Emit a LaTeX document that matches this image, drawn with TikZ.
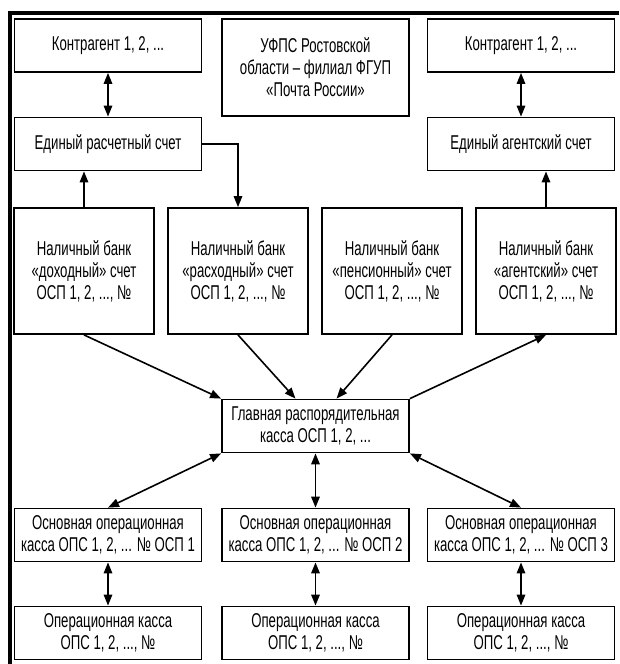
\documentclass[tikz,border=0pt]{standalone}
\usepackage{fontspec}
\setmainfont[FakeStretch=0.66]{Liberation Sans}
\usetikzlibrary{arrows.meta,calc}
\begin{document}
\begin{tikzpicture}[x=1pt,y=-1pt,
  box/.style={draw, line width=1.8pt, fill=white, inner sep=2pt, align=center,
    font=\fontsize{20}{22}\selectfont},
  col/.style={minimum width=187pt, minimum height=53pt},
  nb/.style={minimum width=140pt, minimum height=126pt},
  conn/.style={line width=1.6pt, -{Triangle[length=11pt,width=8.5pt]}},
  dconn/.style={line width=1.6pt, {Triangle[length=11pt,width=8.5pt]}-{Triangle[length=11pt,width=8.5pt]}}]
\useasboundingbox (0,0) rectangle (619,664);
\fill[white] (0,0) rectangle (619,664);
\draw[line width=4.5pt, line join=miter] (10,664) -- (10,13) -- (619,13);

% top row
\node[box,col] (k1) at (108,45.5) {Контрагент 1, 2, ...};
\node[box,col, minimum height=97pt] (uf) at (315.5,67.5) {УФПС Ростовской\\области – филиал ФГУП\\«Почта России»};
\node[box,col] (k2) at (521,45.5) {Контрагент 1, 2, ...};
\node[box,col] (er) at (108,144) {Единый расчетный счет};
\node[box,col] (ea) at (521,144) {Единый агентский счет};

% cash bank accounts
\node[box,nb] (n1) at (84,271) {Наличный банк\\«доходный» счет\\ОСП 1, 2, ..., №};
\node[box,nb] (n2) at (238,271) {Наличный банк\\«расходный» счет\\ОСП 1, 2, ..., №};
\node[box,nb] (n3) at (392,271) {Наличный банк\\«пенсионный» счет\\ОСП 1, 2, ..., №};
\node[box,nb] (n4) at (546,271) {Наличный банк\\«агентский» счет\\ОСП 1, 2, ..., №};

% main cash desk
\node[box,col] (gk) at (315.5,426) {Главная распорядительная\\касса ОСП 1, 2, ...};

% bottom rows
\node[box,col] (o1) at (108,535) {Основная операционная\\касса ОПС 1, 2, ... № ОСП 1};
\node[box,col] (o2) at (315.5,535) {Основная операционная\\касса ОПС 1, 2, ... № ОСП 2};
\node[box,col] (o3) at (521,535) {Основная операционная\\касса ОПС 1, 2, ... № ОСП 3};
\node[box,col] (p1) at (108,633) {Операционная касса\\ОПС 1, 2, ..., №};
\node[box,col] (p2) at (315.5,633) {Операционная касса\\ОПС 1, 2, ..., №};
\node[box,col] (p3) at (521,633) {Операционная касса\\ОПС 1, 2, ..., №};

% connectors
\draw[dconn] (k1) -- (er);
\draw[dconn] (k2) -- (ea);
\draw[conn] (n1.north) -- (er.south -| n1.north);
\draw[conn] (n4.north) -- (ea.south -| n4.north);
\draw[conn] (er.east) -| (n2.north);

\draw[conn] (n1.south) -- (gk.north west);
\draw[conn] (n2.south) -- ($(gk.north)+(-20,0)$);
\draw[conn] (n3.south) -- ($(gk.north)+(21,0)$);
\draw[conn] (gk.north east) -- (n4.south);

\draw[dconn] (gk.south west) -- (o1.north);
\draw[dconn] (gk.south) -- (o2.north);
\draw[dconn] (gk.south east) -- (o3.north);

\draw[dconn] (o1) -- (p1);
\draw[dconn] (o2) -- (p2);
\draw[dconn] (o3) -- (p3);
\end{tikzpicture}
\end{document}
